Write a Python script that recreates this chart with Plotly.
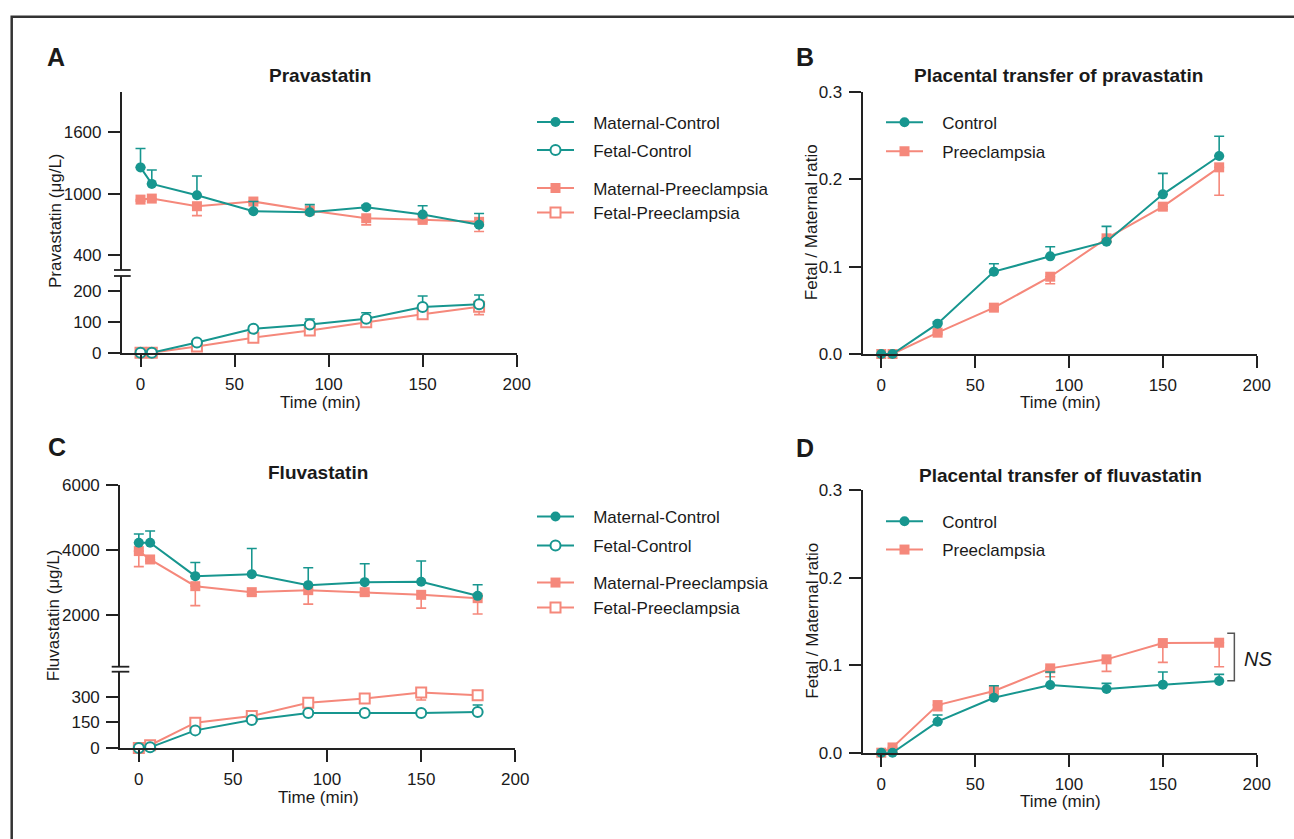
import plotly.graph_objects as go

W, H = 1294, 839


def px(x):
    return x / W


def py(y):
    return 1 - y / H


# ---------------- data ----------------
TIME = [0, 6, 30, 60, 90, 120, 150, 180]

# Panel A: pravastatin concentrations (µg/L)
PRAVA_MAT_CTRL = [1257, 1095, 983, 827, 817, 866, 794, 694]
PRAVA_MAT_CTRL_ERR = [186, 137, 190, 95, 75, 20, 86, 110]
PRAVA_MAT_PE = [941, 951, 876, 922, 834, 758, 742, 723]
PRAVA_MAT_PE_ERR = [15, 10, 92, 15, 20, 65, 20, 95]
PRAVA_FET_CTRL = [0, 0, 33, 78, 92, 111, 149, 158]
PRAVA_FET_CTRL_ERR = [3, 3, 5, 8, 18, 19, 36, 30]
PRAVA_FET_PE = [0, 0, 20, 49, 72, 99, 125, 150]
PRAVA_FET_PE_ERR = [2, 2, 4, 6, 8, 8, 10, 26]

# Panel B: pravastatin fetal/maternal ratio
PRAVA_RATIO_CTRL = [0, 0, 0.0347, 0.0942, 0.1117, 0.1285, 0.1826, 0.2265]
PRAVA_RATIO_CTRL_ERR = [0, 0, 0.002, 0.009, 0.011, 0.0175, 0.024, 0.0225]
PRAVA_RATIO_PE = [0, 0, 0.0244, 0.053, 0.0884, 0.1323, 0.1685, 0.2135]
PRAVA_RATIO_PE_ERR = [0, 0, 0.002, 0.003, 0.008, 0.004, 0.003, 0.032]

# Panel C: fluvastatin concentrations (µg/L)
FLUVA_MAT_CTRL = [4220, 4220, 3191, 3253, 2913, 3006, 3016, 2584]
FLUVA_MAT_CTRL_ERR = [270, 360, 420, 790, 535, 565, 640, 340]
FLUVA_MAT_PE = [3963, 3705, 2882, 2697, 2759, 2697, 2615, 2512]
FLUVA_MAT_PE_ERR = [480, 60, 600, 80, 430, 90, 410, 490]
FLUVA_FET_CTRL = [0, 4, 103, 164, 205, 205, 205, 211]
FLUVA_FET_CTRL_ERR = [3, 3, 8, 10, 10, 10, 10, 40]
FLUVA_FET_PE = [0, 16, 148, 187, 265, 289, 324, 308]
FLUVA_FET_PE_ERR = [2, 3, 8, 8, 10, 10, 43, 10]

# Panel D: fluvastatin fetal/maternal ratio
FLUVA_RATIO_CTRL = [0, 0, 0.0354, 0.0628, 0.0773, 0.0727, 0.0777, 0.0818]
FLUVA_RATIO_CTRL_ERR = [0, 0, 0.0076, 0.0137, 0.0148, 0.0065, 0.0144, 0.0077]
FLUVA_RATIO_PE = [0, 0.006, 0.0544, 0.0704, 0.0963, 0.1066, 0.1252, 0.1256]
FLUVA_RATIO_PE_ERR = [0, 0.002, 0.0065, 0.003, 0.0095, 0.0137, 0.022, 0.0274]

X_TICKS = [0, 50, 100, 150, 200]
A_UP_TICKS = [400, 1000, 1600]
A_LO_TICKS = [0, 100, 200]
C_UP_TICKS = [2000, 4000, 6000]
C_LO_TICKS = [0, 150, 300]
RATIO_TICKS = [0, 0.1, 0.2, 0.3]
RATIO_TICKTEXT = ["0.0", "0.1", "0.2", "0.3"]

# ---------------- style ----------------
TEAL = "#17968f"
SALMON = "#f5887b"
FONT = "Liberation Sans, Arial, Helvetica, sans-serif"
TXT = "#1a1a1a"
AX = "#222222"

fig = go.Figure()

legend_cfg = {}
legend_count = [0]


def new_legend(x_left, y_mid):
    legend_count[0] += 1
    key = "legend" if legend_count[0] == 1 else f"legend{legend_count[0]}"
    legend_cfg[key] = dict(
        x=px(x_left), y=py(y_mid), xanchor="left", yanchor="middle",
        bgcolor="rgba(0,0,0,0)", borderwidth=0, itemwidth=37,
        font=dict(family=FONT, size=17, color=TXT), itemclick=False,
    )
    return key


def add(xa, ya, y, err, color, symbol, filled, up, name, lx, ly):
    n = len(err)
    leg = new_legend(lx, ly)
    fig.add_trace(go.Scatter(
        x=TIME, y=y, xaxis=xa, yaxis=ya, mode="lines+markers",
        name="\u00a0\u00a0\u00a0" + name, legend=leg, showlegend=True,
        line=dict(color=color, width=2),
        marker=dict(symbol=symbol, size=10,
                    color=color if filled else "white",
                    line=dict(color=color, width=0 if filled else 2)),
        error_y=dict(type="data", symmetric=False,
                     array=err if up else [0] * n,
                     arrayminus=[0] * n if up else err,
                     color=color, thickness=1.6, width=5),
        cliponaxis=False,
    ))


LX_AC = 532
LX_BD = 881
# Panel A (pink first, teal on top)
add("x", "y", PRAVA_MAT_PE, PRAVA_MAT_PE_ERR, SALMON, "square", True, False, "Maternal-Preeclampsia", LX_AC, 188.5)
add("x2", "y2", PRAVA_FET_PE, PRAVA_FET_PE_ERR, SALMON, "square", False, False, "Fetal-Preeclampsia", LX_AC, 213)
add("x", "y", PRAVA_MAT_CTRL, PRAVA_MAT_CTRL_ERR, TEAL, "circle", True, True, "Maternal-Control", LX_AC, 122.5)
add("x2", "y2", PRAVA_FET_CTRL, PRAVA_FET_CTRL_ERR, TEAL, "circle", False, True, "Fetal-Control", LX_AC, 150.5)
# Panel B
add("x3", "y3", PRAVA_RATIO_PE, PRAVA_RATIO_PE_ERR, SALMON, "square", True, False, "Preeclampsia", LX_BD, 151.7)
add("x3", "y3", PRAVA_RATIO_CTRL, PRAVA_RATIO_CTRL_ERR, TEAL, "circle", True, True, "Control", LX_BD, 122.7)
# Panel C
add("x4", "y4", FLUVA_MAT_PE, FLUVA_MAT_PE_ERR, SALMON, "square", True, False, "Maternal-Preeclampsia", LX_AC, 583)
add("x5", "y5", FLUVA_FET_PE, FLUVA_FET_PE_ERR, SALMON, "square", False, False, "Fetal-Preeclampsia", LX_AC, 608)
add("x4", "y4", FLUVA_MAT_CTRL, FLUVA_MAT_CTRL_ERR, TEAL, "circle", True, True, "Maternal-Control", LX_AC, 517)
add("x5", "y5", FLUVA_FET_CTRL, FLUVA_FET_CTRL_ERR, TEAL, "circle", False, True, "Fetal-Control", LX_AC, 546)
# Panel D
add("x6", "y6", FLUVA_RATIO_PE, FLUVA_RATIO_PE_ERR, SALMON, "square", True, False, "Preeclampsia", LX_BD, 550)
add("x6", "y6", FLUVA_RATIO_CTRL, FLUVA_RATIO_CTRL_ERR, TEAL, "circle", True, True, "Control", LX_BD, 521.7)

tickfont = dict(family=FONT, size=17, color=TXT)


def xcfg(dom, anchor, show):
    return dict(domain=dom, anchor=anchor, range=[-10, 200], showline=show,
                linecolor=AX, linewidth=1.6, ticks="outside" if show else "",
                ticklen=12, tickwidth=1.6, tickcolor=AX, showticklabels=show,
                tickvals=X_TICKS, showgrid=False, zeroline=False, automargin=False,
                tickfont=tickfont, ticklabelstandoff=3)


def ycfg(dom, anchor, rng, tickvals, ticktext=None):
    d = dict(domain=dom, anchor=anchor, range=rng, showline=True,
             linecolor=AX, linewidth=1.6, ticks="outside", ticklen=12,
             tickwidth=1.6, tickcolor=AX, tickvals=tickvals, showgrid=False,
             zeroline=False, tickfont=tickfont, ticklabelstandoff=3, automargin=False)
    if ticktext:
        d["ticktext"] = ticktext
    return d


AX_A = [px(121.7), px(516.7)]
AX_C = [px(120), px(515.3)]
AX_BD = [px(862.5), px(1256.7)]

fig.update_layout(
    xaxis=xcfg(AX_A, "y", False),
    yaxis=ycfg([py(270), py(91.7)], "x", [250, 2000], A_UP_TICKS),
    xaxis2=xcfg(AX_A, "y2", True),
    yaxis2=ycfg([py(352.7), py(276)], "x2", [0, 250], A_LO_TICKS),
    xaxis3=xcfg(AX_BD, "y3", True),
    yaxis3=ycfg([py(354), py(91.7)], "x3", [0, 0.3], RATIO_TICKS, RATIO_TICKTEXT),
    xaxis4=xcfg(AX_C, "y4", False),
    yaxis4=ycfg([py(666.7), py(485)], "x4", [400, 6000], C_UP_TICKS),
    xaxis5=xcfg(AX_C, "y5", True),
    yaxis5=ycfg([py(748), py(671.7)], "x5", [0, 446], C_LO_TICKS),
    xaxis6=xcfg(AX_BD, "y6", True),
    yaxis6=ycfg([py(752.7), py(490)], "x6", [0, 0.3], RATIO_TICKS, RATIO_TICKTEXT),
)
fig.update_layout(**legend_cfg)

ann = []


def text(x, y, t, size=17, bold=False, angle=0, xanchor="center", italic=False):
    s = t
    if bold:
        s = f"<b>{s}</b>"
    if italic:
        s = f"<i>{s}</i>"
    ann.append(dict(x=px(x), y=py(y), xref="paper", yref="paper", text=s,
                    showarrow=False, textangle=angle, xanchor=xanchor,
                    yanchor="middle", font=dict(family=FONT, size=size, color=TXT)))


# panel letters
text(56, 57, "A", 25, bold=True)
text(805, 57, "B", 25, bold=True)
text(57, 447, "C", 25, bold=True)
text(805, 448, "D", 25, bold=True)
# titles
text(320, 75, "Pravastatin", 19, bold=True)
text(1058, 75, "Placental transfer of pravastatin", 19, bold=True)
text(318, 472, "Fluvastatin", 19, bold=True)
text(1060, 475, "Placental transfer of fluvastatin", 19, bold=True)
# axis titles
text(320, 402, "Time (min)")
text(1060, 402, "Time (min)")
text(318, 797, "Time (min)")
text(1060, 801, "Time (min)")
text(55, 221, "Pravastatin (μg/L)", angle=-90)
text(53.3, 615, "Fluvastatin (μg/L)", angle=-90)
text(811.7, 222.5, "Fetal / Maternal ratio", angle=-90)
text(811.7, 621, "Fetal / Maternal ratio", angle=-90)
# NS
text(1241.7, 659, "NS", 20, italic=True, xanchor="left")

shapes = []
# frame
shapes.append(dict(type="rect", xref="paper", yref="paper", x0=px(11.7), x1=1.05,
                   y0=-0.05, y1=py(16.7), line=dict(color="#333333", width=2.5)))
# axis break marks
for yy, xa, xb in [(270, 114, 130.7), (276, 114, 130.7), (666.7, 111.7, 129.3), (671.7, 111.7, 129.3)]:
    shapes.append(dict(type="line", xref="paper", yref="paper", x0=px(xa), x1=px(xb),
                       y0=py(yy), y1=py(yy), line=dict(color=AX, width=1.8)))
# NS bracket
shapes.append(dict(type="path", xref="x6", yref="y6",
                   path="M 184.3,0.1363 L 188.1,0.1363 L 188.1,0.0822 L 184.3,0.0822",
                   line=dict(color="#555555", width=1.5)))

fig.update_layout(
    width=W, height=H, margin=dict(l=0, r=0, t=0, b=0, pad=0, autoexpand=False),
    paper_bgcolor="white", plot_bgcolor="white", template="none",
    annotations=ann, shapes=shapes,
    font=dict(family=FONT, size=17, color=TXT),
)

fig.write_html("out.html", config={"displayModeBar": False},
               post_script="document.body.style.margin='0';document.body.style.overflow='hidden';")
